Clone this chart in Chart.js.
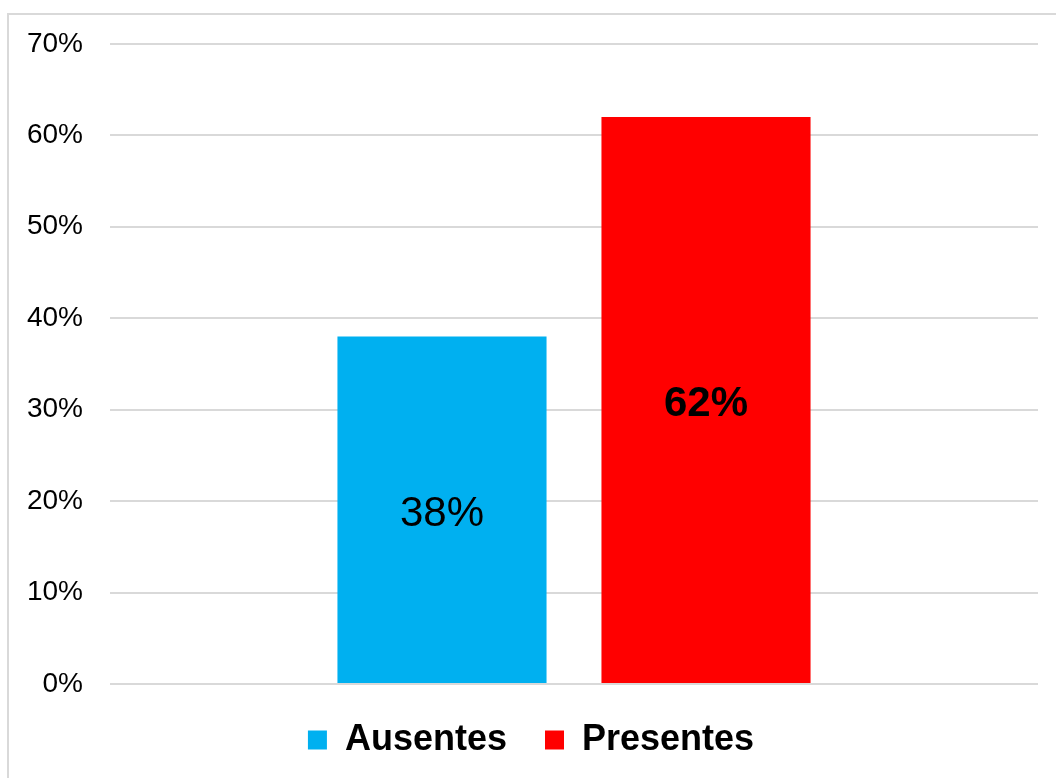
<!DOCTYPE html>
<html>
<head>
<meta charset="utf-8">
<title>Ausentes / Presentes</title>
<script src="https://cdn.jsdelivr.net/npm/chart.js@4.4.1/dist/chart.umd.min.js"></script>
<style>
    html, body { margin: 0; padding: 0; background: #fff; }
    #wrap { width: 1056px; height: 778px; position: relative; }
</style>
</head>
<body>
<div id="wrap"><canvas id="asistencia"></canvas></div>
<script>
// datos del gráfico
const categorias = [''];
const series = ['Ausentes', 'Presentes'];
const valores = [[38], [62]];
const colores = ['#00B0F0', '#FF0000'];
const negritas = [false, true];
const ejeMax = 70;
const ejePaso = 10;

const FUENTE = '"Liberation Sans", Arial, sans-serif';
const TAM_ETIQUETA = 42;

// marco gris alrededor del gráfico
const marcoPlugin = {
    id: 'marco',
    beforeDraw: (chart) => {
        const ctx = chart.ctx;
        ctx.save();
        ctx.strokeStyle = '#d9d9d9';
        ctx.lineWidth = 2;
        ctx.strokeRect(8, 14, chart.width + 40, chart.height + 40);
        ctx.restore();
    }
};

// porcentaje escrito en el centro de cada barra
const etiquetasPlugin = {
    id: 'etiquetas',
    afterDatasetsDraw: (chart) => {
        const ctx = chart.ctx;
        chart.data.datasets.forEach((ds, i) => {
            const meta = chart.getDatasetMeta(i);
            meta.data.forEach((bar, j) => {
                const v = ds.data[j];
                const medio = (bar.y + bar.base) / 2;
                ctx.save();
                ctx.fillStyle = '#000';
                ctx.font = (negritas[i] ? 'bold ' : '') + TAM_ETIQUETA + 'px ' + FUENTE;
                ctx.textAlign = 'center';
                ctx.textBaseline = 'alphabetic';
                // centra la altura de las cifras sobre el medio de la barra
                ctx.fillText(v + '%', bar.x, medio + TAM_ETIQUETA * 0.36 + 1);
                ctx.restore();
            });
        });
    }
};

const ctx = document.getElementById('asistencia').getContext('2d');

new Chart(ctx, {
    type: 'bar',
    data: {
        labels: categorias,
        datasets: series.map((nombre, i) => ({
            label: nombre,
            data: valores[i],
            backgroundColor: colores[i],
            borderWidth: 0,
            categoryPercentage: 0.569,
            barPercentage: 0.792
        }))
    },
    plugins: [marcoPlugin, etiquetasPlugin],
    options: {
        responsive: true,
        maintainAspectRatio: false,
        animation: false,
        layout: {
            padding: { left: 24, right: 18, top: 43, bottom: 10 }
        },
        scales: {
            x: {
                display: false
            },
            y: {
                min: 0,
                max: ejeMax,
                afterFit: (scale) => { scale.width = 86; },
                border: { display: false },
                grid: {
                    color: '#d9d9d9',
                    lineWidth: 2,
                    drawTicks: false
                },
                ticks: {
                    stepSize: ejePaso,
                    padding: 27,
                    color: '#000',
                    font: { family: FUENTE, size: 28 },
                    callback: (v) => v + '%'
                }
            }
        },
        plugins: {
            legend: {
                display: true,
                position: 'bottom',
                labels: {
                    boxWidth: 19,
                    boxHeight: 19,
                    padding: 38,
                    color: '#000',
                    font: { family: FUENTE, size: 36, weight: 'bold' }
                }
            },
            tooltip: { enabled: false }
        }
    }
});
</script>
</body>
</html>
